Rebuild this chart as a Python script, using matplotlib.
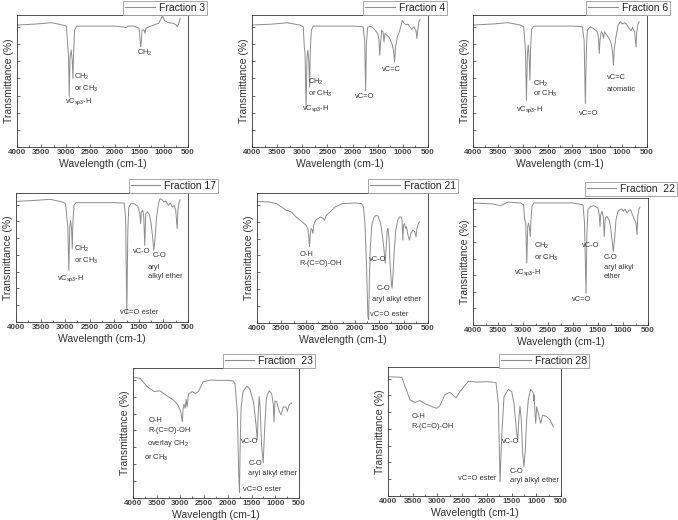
"""IR spectra of the fractions (8 panels)."""
import matplotlib
matplotlib.use("Agg")
import matplotlib.pyplot as plt
from matplotlib.lines import Line2D
from matplotlib.ticker import MultipleLocator

plt.rcParams["font.family"] = ["Liberation Sans", "DejaVu Sans"]
plt.rcParams["mathtext.default"] = "regular"

# ---- data: (wavenumber cm-1, transmittance, relative scale 0-100) ----
F3_WN = [4000, 3600, 3300, 3100, 2990, 2960, 2945, 2930, 2915, 2890, 2870, 2855,
         2840, 2820, 2780, 2000, 1760, 1730, 1600, 1500, 1470, 1460, 1440, 1400,
         1380, 1360, 1300, 1200, 1100, 1050, 1020, 980, 900, 800, 740, 720, 700, 660]
F3_T = [92.4, 93.2, 94.2, 92.7, 91.6, 75.9, 68.4, 38.0, 68.4, 73.4, 65.8, 51.9,
        73.4, 88.6, 91.6, 91.6, 90.6, 91.6, 91.6, 89.9, 75.9, 78.0, 88.6, 88.6,
        86.1, 89.9, 91.1, 92.4, 93.7, 97.5, 99.2, 95.7, 94.2, 93.7, 92.4, 91.1, 92.4, 97.5]

F4_WN = [4000, 3600, 3300, 3050, 2980, 2960, 2945, 2925, 2905, 2890, 2870, 2855,
         2840, 2820, 2780, 2000, 1790, 1760, 1740, 1725, 1700, 1650, 1580, 1500,
         1475, 1460, 1445, 1420, 1395, 1375, 1355, 1320, 1270, 1220, 1185, 1165,
         1145, 1110, 1060, 1010, 970, 930, 900, 860, 820, 780, 740, 720, 705, 680, 660]
F4_T = [92.4, 93.1, 94.1, 92.4, 91.1, 75.8, 70.7, 30.5, 68.2, 73.3, 65.6, 45.3,
        73.3, 88.5, 91.6, 91.6, 91.1, 80.9, 42.7, 78.4, 90.6, 91.6, 89.8, 86.0,
        80.9, 69.5, 78.4, 88.5, 87.3, 79.6, 86.0, 84.7, 83.0, 78.4, 73.3, 64.4,
        75.8, 83.5, 88.5, 95.7, 93.6, 92.4, 93.1, 91.1, 89.1, 91.1, 88.5, 82.2, 88.5, 94.9, 96.7]

F6_WN = [4000, 3600, 3300, 3050, 2980, 2960, 2945, 2925, 2905, 2890, 2870, 2855,
         2840, 2820, 2780, 2000, 1800, 1765, 1740, 1720, 1700, 1640, 1580, 1500,
         1475, 1460, 1445, 1420, 1395, 1375, 1355, 1310, 1260, 1220, 1190, 1175,
         1160, 1130, 1080, 1040, 990, 950, 900, 860, 820, 790, 750, 720, 705, 680, 660]
F6_T = [92.4, 93.2, 94.2, 92.4, 91.1, 81.0, 73.4, 35.4, 70.9, 77.2, 68.4, 50.6,
        75.9, 89.1, 91.6, 91.6, 91.1, 81.0, 32.9, 73.4, 88.6, 91.1, 89.9, 87.3,
        82.3, 70.9, 81.0, 87.3, 86.1, 82.3, 87.3, 84.8, 82.3, 78.5, 70.9, 62.0,
        73.4, 82.3, 92.4, 94.9, 93.2, 94.2, 92.4, 89.9, 88.1, 90.6, 87.3, 75.9, 87.3, 93.2, 94.9]

F17_WN = [4000, 3600, 3300, 3050, 2990, 2970, 2945, 2925, 2905, 2890, 2870, 2855,
          2840, 2820, 2780, 2000, 1800, 1770, 1745, 1725, 1705, 1660, 1600, 1520,
          1480, 1465, 1450, 1420, 1400, 1380, 1360, 1320, 1280, 1250, 1220, 1195,
          1170, 1140, 1100, 1070, 1030, 990, 950, 900, 860, 820, 780, 750, 720,
          705, 680, 660]
F17_T = [93.5, 94.3, 95.1, 93.0, 91.7, 82.7, 73.6, 40.1, 73.6, 78.8, 72.4, 56.8,
         78.8, 90.4, 92.5, 92.5, 92.2, 81.4, 6.5, 71.0, 89.1, 91.7, 91.7, 89.7,
         84.0, 76.2, 85.3, 86.6, 81.4, 59.4, 84.0, 85.3, 82.7, 76.2, 65.9, 55.6,
         64.6, 81.4, 91.7, 95.6, 94.8, 93.0, 93.8, 90.4, 92.2, 89.1, 90.4, 86.6, 72.4,
         86.6, 93.0, 94.8]

F21_WN = [4000, 3750, 3600, 3500, 3400, 3300, 3200, 3100, 3000, 2960, 2940, 2925,
          2905, 2890, 2870, 2855, 2840, 2800, 2700, 2650, 2620, 2580, 2500, 2400,
          2250, 2000, 1860, 1820, 1790, 1760, 1730, 1715, 1700, 1680, 1650, 1600,
          1560, 1520, 1470, 1430, 1400, 1375, 1355, 1335, 1320, 1300, 1280, 1250,
          1235, 1215, 1190, 1160, 1120, 1080, 1050, 1030, 1015, 1000, 980, 960,
          940, 910, 880, 850, 810, 770, 745, 725, 700, 670]
F21_T = [93.6, 93.1, 91.8, 89.3, 86.7, 85.5, 81.6, 78.6, 75.3, 72.7, 66.3, 58.7,
         70.2, 72.7, 71.4, 68.9, 75.3, 79.1, 81.6, 80.4, 79.1, 82.9, 85.5, 89.3,
         91.8, 92.3, 91.8, 89.3, 76.5, 45.9, 5.1, 2.6, 33.2, 58.7, 75.3, 81.6,
         82.9, 82.1, 76.5, 66.3, 56.1, 45.9, 58.7, 71.4, 72.7, 66.3, 48.5, 30.6,
         26.8, 38.3, 56.1, 71.4, 79.1, 81.6, 81.6, 79.1, 63.8, 75.3, 76.5, 72.7,
         74.0, 67.6, 63.8, 68.9, 71.4, 70.2, 66.3, 72.7, 76.5, 77.8]

F22_WN = [4000, 3600, 3450, 3300, 3050, 2990, 2965, 2945, 2925, 2905, 2890, 2870,
          2855, 2840, 2820, 2780, 2000, 1800, 1770, 1740, 1720, 1700, 1650, 1580,
          1500, 1475, 1460, 1445, 1420, 1395, 1375, 1355, 1320, 1280, 1250, 1220,
          1195, 1170, 1140, 1100, 1060, 1020, 990, 960, 920, 880, 850, 810, 770,
          740, 720, 705, 680, 660]
F22_T = [96.1, 95.3, 93.9, 96.8, 96.1, 94.7, 82.9, 80.3, 48.7, 77.6, 80.3, 76.3,
         69.7, 82.9, 93.9, 96.1, 96.1, 94.7, 80.3, 25.0, 75.0, 90.8, 93.4, 93.9,
         92.1, 86.8, 77.6, 86.8, 89.5, 85.5, 69.7, 84.2, 85.5, 82.9, 77.6, 67.1,
         57.9, 67.1, 82.9, 89.5, 90.8, 91.3, 89.5, 91.3, 88.2, 90.3, 90.8, 86.8, 82.9,
         80.3, 71.1, 85.5, 91.3, 92.9]

F23_WN = [4000, 3850, 3700, 3550, 3430, 3300, 3150, 3050, 2990, 2960, 2940, 2925,
          2900, 2880, 2860, 2830, 2750, 2680, 2620, 2520, 2350, 2250, 2000, 1890,
          1850, 1800, 1772, 1755, 1740, 1720, 1680, 1600, 1540, 1460, 1410, 1380,
          1360, 1340, 1320, 1290, 1255, 1225, 1190, 1168, 1126, 1076, 1042, 1027,
          1006, 970, 916, 880, 831, 774, 746, 704, 660]
F23_T = [93.0, 92.0, 85.6, 81.8, 82.5, 79.0, 75.4, 71.5, 66.0, 58.7, 70.0, 72.0,
         69.0, 76.0, 70.0, 80.0, 81.8, 80.5, 82.0, 89.5, 90.8, 90.5, 90.5, 90.0,
         88.0, 66.0, 20.0, 4.0, 40.8, 70.0, 81.8, 86.0, 84.0, 74.0, 58.0, 44.6,
         65.0, 78.0, 70.0, 41.0, 27.0, 53.0, 76.0, 79.0, 82.5, 80.0, 72.0, 58.7,
         74.6, 74.0, 66.7, 64.0, 70.0, 70.0, 66.7, 71.8, 73.0]

F28_WN = [4000, 3720, 3656, 3555, 3454, 3353, 3250, 3116, 3015, 2950, 2848, 2746,
          2624, 2543, 2375, 2206, 2000, 1815, 1767, 1734, 1700, 1653, 1566, 1497,
          1451, 1397, 1376, 1350, 1330, 1303, 1275, 1249, 1222, 1195, 1162, 1115,
          1075, 1055, 1050, 1045, 1026, 1012, 992, 959, 911, 870, 789, 722, 655]
F28_T = [92.5, 92.0, 85.0, 74.5, 72.5, 74.0, 71.5, 69.4, 68.0, 70.0, 78.6, 80.4,
         76.0, 81.0, 88.9, 88.3, 88.6, 88.0, 71.8, 11.0, 46.0, 77.0, 82.7, 80.9,
         71.8, 48.6, 43.4, 61.5, 69.8, 58.9, 33.0, 22.7, 35.7, 58.9, 74.4, 82.7,
         80.9, 79.0, 74.0, 78.0, 64.1, 56.3, 69.2, 64.1, 56.3, 62.8, 61.5, 58.9, 53.7]

LEGEND_NAMES = ["Fraction 3", "Fraction 4", "Fraction 6", "Fraction 17",
                "Fraction 21", "Fraction  22", "Fraction  23", "Fraction 28"]

W, H = 678, 520
LINE_C = "#8c8c8c"
TEXT_C = "#333333"

# axes frames in pixels (left, top, right, bottom) and legend anchor (right, top)
frames = [(17, 15, 188, 147), (252, 15, 428, 147), (473, 15, 647, 147),
          (16, 193, 188, 322), (257, 193, 428, 323), (473, 198, 648, 325),
          (133, 368, 299, 498), (388, 367, 561, 496)]
legend_at = [(207, 1), (447, 1), (670, 1), (218, 179), (458, 179), (677, 182),
             (315, 354), (589, 354)]

notes = [
    [("CH$_2$", 2831, 53), ("or CH$_3$", 2831, 44), ("vC$_{sp3}$-H", 3015, 34.5),
     ("CH$_2$", 1553, 71)],
    [("CH$_2$", 2877, 49), ("or CH$_3$", 2877, 40), ("vC$_{sp3}$-H", 2996, 29),
     ("vC=O", 1953, 38), ("vC=C", 1424, 58.5)],
    [("CH$_2$", 2788, 48), ("or CH$_3$", 2788, 40), ("vC$_{sp3}$-H", 3125, 28),
     ("vC=O", 1860, 25.3), ("vC=C", 1308, 52.4), ("aromatic", 1308, 43.5)],
    [("CH$_2$", 2822, 56.8), ("or CH$_3$", 2822, 47.3), ("vC$_{sp3}$-H", 3174, 34),
     ("vC-O", 1617, 54.8), ("C-O", 1224, 51.7), ("aryl", 1313, 42.6),
     ("alkyl ether", 1313, 35.4), ("vC=O ester", 1874, 7.2)],
    [("O-H", 3137, 53), ("R-(C=O)-OH", 3137, 45.4), ("vC-O", 1710, 48.5),
     ("C-O", 1553, 26.3), ("aryl alkyl ether", 1655, 17.9), ("vC=O ester", 1689, 6.9)],
    [("CH$_2$", 2780, 62.4), ("or CH$_3$", 2780, 52.6), ("vC$_{sp3}$-H", 3180, 41.3),
     ("vC=O", 2013, 19.7), ("vC-O", 1813, 62.4), ("C-O", 1387, 53.4),
     ("aryl alkyl", 1387, 45.5), ("ether", 1387, 38.2)],
    [("O-H", 3677, 60), ("R-(C=O)-OH", 3677, 52.3), ("overlay CH$_2$", 3711, 42),
     ("or CH$_3$", 3760, 30.5), ("vC-O", 1730, 43.8), ("C-O", 1570, 26.7),
     ("aryl alkyl ether", 1583, 18.5), ("vC=O ester", 1674, 6.9)],
    [("O-H", 3520, 61.5), ("R-(C=O)-OH", 3520, 53.7), ("vC-O", 1700, 42),
     ("vC=O ester", 2577, 13.7), ("C-O", 1532, 18.8), ("aryl alkyl ether", 1532, 11.9)],
]

spectra = [(F3_WN, F3_T), (F4_WN, F4_T), (F6_WN, F6_T), (F17_WN, F17_T),
           (F21_WN, F21_T), (F22_WN, F22_T), (F23_WN, F23_T), (F28_WN, F28_T)]

fig = plt.figure(figsize=(W / 100, H / 100), dpi=100)

for i, ((wn, t), (l, tp, r, b)) in enumerate(zip(spectra, frames)):
    ax = fig.add_axes([l / W, 1 - b / H, (r - l) / W, (b - tp) / H])
    ax.plot(wn, t, color=LINE_C, lw=0.7)
    ax.set_xlim(4000, 500)
    ax.set_ylim(0, 100)
    ax.xaxis.set_major_locator(MultipleLocator(500))
    ax.xaxis.set_minor_locator(MultipleLocator(250))
    ax.set_yticks([0, 13, 26, 39, 52, 65, 78, 91])
    ax.set_yticklabels([])
    ax.tick_params(which="both", direction="in", width=0.5, colors="#333333",
                   labelsize=5.8, pad=1.5)
    ax.tick_params(which="major", length=2)
    ax.tick_params(which="minor", length=1.2)
    for lab in ax.get_xticklabels():
        lab.set_fontweight("bold")
        lab.set_color("#444444")
    for s in ax.spines.values():
        s.set_linewidth(0.6)
        s.set_color("#333333")
    ax.set_xlabel("Wavelength (cm-1)", fontsize=7.5, labelpad=2, color=TEXT_C)
    ax.set_ylabel("Transmittance (%)", fontsize=7.5, labelpad=1, color=TEXT_C)

    for txt, x, y in notes[i]:
        ax.text(x, y, txt, fontsize=5.4, color=TEXT_C, ha="left", va="center")

    lx, ly = legend_at[i]
    handle = Line2D([], [], color=LINE_C, lw=0.8)
    leg = ax.legend([handle], [LEGEND_NAMES[i]], loc="upper right",
                    bbox_to_anchor=(lx / W, 1 - ly / H), bbox_transform=fig.transFigure,
                    fontsize=7.5, frameon=True, fancybox=False, framealpha=1,
                    edgecolor="#999999", borderpad=0.2, handlelength=2.8,
                    handletextpad=0.4, borderaxespad=0)
    leg.get_frame().set_linewidth(0.6)
    for tx in leg.get_texts():
        tx.set_color("#222222")

fig.savefig("out.png", dpi=100)
